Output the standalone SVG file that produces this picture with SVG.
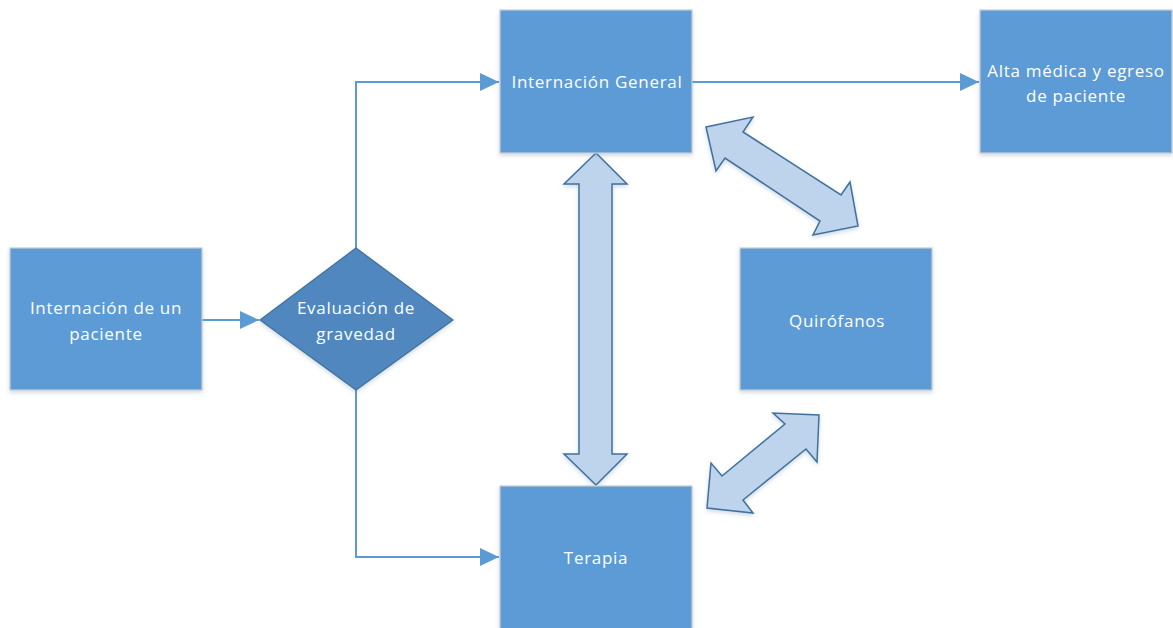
<svg xmlns="http://www.w3.org/2000/svg" width="1173" height="628" viewBox="0 0 1173 628">
  <defs>
    <style>
      .box { fill: #5B9BD5; stroke: #C8CDD2; stroke-width: 1.2; filter: url(#shadow); }
      .dia { fill: #4F87BE; stroke: #41719C; stroke-width: 1.2; filter: url(#shadow); }
      .blk { fill: #BED3EC; stroke: #41719C; stroke-width: 1.5; stroke-linejoin: miter; filter: url(#shadow); }
      .lbl { fill: #FFFFFF; font-family: "Open Sans", "Noto Sans", "Liberation Sans", sans-serif; font-size: 17px; letter-spacing: 0.7px; text-anchor: middle; }
      .conn { fill: none; stroke: #5B9BD5; stroke-width: 2; }
    </style>
    <filter id="shadow" x="-10%" y="-10%" width="120%" height="125%">
      <feDropShadow dx="0" dy="2" stdDeviation="2" flood-color="#5B7FA6" flood-opacity="0.3"/>
    </filter>
    <marker id="head" viewBox="0 0 19 18" refX="19" refY="9" markerWidth="19" markerHeight="18" markerUnits="userSpaceOnUse" orient="auto">
      <path d="M0,0 L19,9 L0,18 z" fill="#5B9BD5"/>
    </marker>
  </defs>

  <!-- flow connectors -->
  <g id="connectors">
    <path class="conn" d="M202,320 H259" marker-end="url(#head)"/>
    <path class="conn" d="M356,248 V82 H499" marker-end="url(#head)"/>
    <path class="conn" d="M356,390 V557 H499" marker-end="url(#head)"/>
    <path class="conn" d="M692,82 H979" marker-end="url(#head)"/>
  </g>

  <!-- two-way block arrows between wards and operating rooms -->
  <g id="transfers">
    <polygon class="blk" points="596,153 627,184 612,184 612,454 627,454 596,485 564,454 579,454 579,184 564,184"/>
    <polygon class="blk" points="706,127 753,117 743,132 841,195 850,182 858,226 813,235 820,221 725,158 716,171"/>
    <polygon class="blk" points="819,415 817,462 806,449 743,500 753,513 707,508 711,463 722,476 785,424 773,413"/>
  </g>

  <g id="node-ingreso">
    <rect class="box" x="10" y="248" width="192" height="142"/>
    <text class="lbl" x="106" y="314">Internación de un</text>
    <text class="lbl" x="106" y="340">paciente</text>
  </g>

  <g id="node-evaluacion">
    <polygon class="dia" points="356,248 453,320 356,390 260,320"/>
    <text class="lbl" x="356" y="314">Evaluación de</text>
    <text class="lbl" x="356" y="340">gravedad</text>
  </g>

  <g id="node-internacion-general">
    <rect class="box" x="500" y="10" width="192" height="143"/>
    <text class="lbl" x="597" y="88">Internación General</text>
  </g>

  <g id="node-alta">
    <rect class="box" x="980" y="10" width="192" height="143"/>
    <text class="lbl" x="1076" y="77">Alta médica y egreso</text>
    <text class="lbl" x="1076" y="102">de paciente</text>
  </g>

  <g id="node-quirofanos">
    <rect class="box" x="740" y="248" width="192" height="142"/>
    <text class="lbl" x="837" y="327">Quirófanos</text>
  </g>

  <g id="node-terapia">
    <rect class="box" x="500" y="486" width="192" height="150"/>
    <text class="lbl" x="596" y="564">Terapia</text>
  </g>
</svg>
